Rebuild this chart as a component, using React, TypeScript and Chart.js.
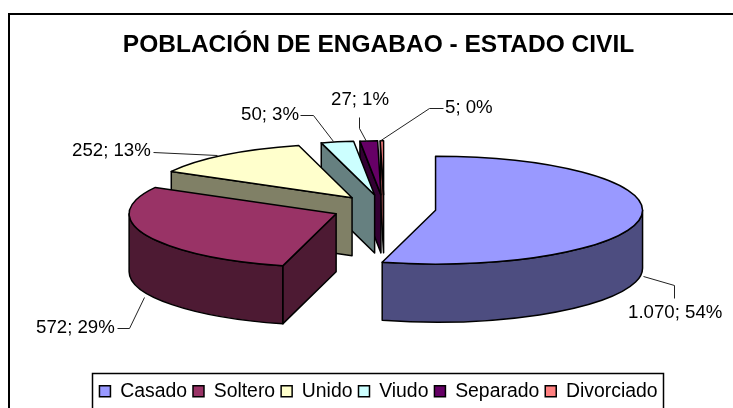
import React, { useEffect, useRef } from "react";
import { ArcElement, Chart, registerables } from "chart.js";

Chart.register(...registerables);

const TITLE = "POBLACIÓN DE ENGABAO - ESTADO CIVIL";
const categories = ["Casado", "Soltero", "Unido", "Viudo", "Separado", "Divorciado"];
const values = [1070, 572, 252, 50, 27, 5];
const topColors = ["#9999FF", "#993366", "#FFFFCC", "#CCFFFF", "#660066", "#FF8080"];
const wallColors = ["#4D4D80", "#4D1A33", "#808066", "#668080", "#330033", "#804040"];

const FONT = '"Liberation Sans", Arial, sans-serif';
const CENTER = { x: 384, y: 208.4 };
const RADIUS = 207;
const SQUASH = 54 / 207;
const DEPTH = 58;
const EXPLODE = 52;
const PAINT_ORDER = [5, 4, 3, 2, 1, 0];

// Where each data label sits (left edge, middle) and its leader line.
const labelLayout = [
  { x: 628, y: 313, line: [[643, 276], [674, 285], [674, 298]] },
  { x: 36, y: 328, line: [[144, 297], [129, 328], [117, 328]] },
  { x: 72, y: 151, line: [[153, 152], [217, 155]] },
  { x: 241, y: 115, line: [[300, 115], [313, 115], [333, 141]] },
  { x: 331, y: 100, line: [[359, 117], [359, 128], [366, 141]] },
  { x: 445, y: 108, line: [[443, 108], [429, 108], [379, 141]] },
];

const formatValue = (v: number) => String(v).replace(/\B(?=(\d{3})+$)/g, ".");

function sliceGeometry(arc: any) {
  const { startAngle: s, endAngle: e } = arc.getProps(["startAngle", "endAngle"], true);
  const mid = (s + e) / 2;
  return {
    s,
    e,
    cx: CENTER.x + Math.cos(mid) * EXPLODE,
    cy: CENTER.y + Math.sin(mid) * EXPLODE * SQUASH,
  };
}

const pie3d = {
  id: "pie3d",
  beforeDraw(chart: any) {
    const c = chart.ctx;
    c.save();
    c.fillStyle = "#fff";
    c.fillRect(0, 0, chart.width, chart.height);
    c.strokeStyle = "#000";
    c.lineWidth = 2;
    c.beginPath();
    c.moveTo(9, chart.height + 2);
    c.lineTo(9, 14);
    c.lineTo(chart.width + 2, 14);
    c.stroke();
    c.restore();
  },
  beforeDatasetsDraw(chart: any) {
    const c = chart.ctx;
    const arcs = chart.getDatasetMeta(0).data;
    // Each slice is pulled out of the pie along its own mid-angle.
    for (const arc of arcs) {
      arc.draw = function (ctx: any) {
        const { startAngle: s, endAngle: e } = this.getProps(["startAngle", "endAngle"], true);
        const mid = (s + e) / 2;
        ctx.save();
        ctx.translate(Math.cos(mid) * EXPLODE, Math.sin(mid) * EXPLODE);
        ArcElement.prototype.draw.call(this, ctx);
        ctx.restore();
      };
    }
    c.save();
    c.strokeStyle = "#000";
    c.lineWidth = 1.5;
    c.lineJoin = "round";
    const ry = RADIUS * SQUASH;
    const cutWall = (g: any, a: number) => {
      const px = g.cx + Math.cos(a) * RADIUS;
      const py = g.cy + Math.sin(a) * ry;
      c.beginPath();
      c.moveTo(g.cx, g.cy);
      c.lineTo(px, py);
      c.lineTo(px, py + DEPTH);
      c.lineTo(g.cx, g.cy + DEPTH);
      c.closePath();
      c.fill();
      c.stroke();
    };
    for (const i of PAINT_ORDER) {
      const g = sliceGeometry(arcs[i]);
      c.fillStyle = wallColors[i];
      if (Math.cos(g.s) < -1e-6) cutWall(g, g.s);
      if (Math.cos(g.e) > 1e-6) cutWall(g, g.e);
      const a0 = Math.max(g.s, 0);
      const a1 = Math.min(g.e, Math.PI);
      if (a1 > a0) {
        c.beginPath();
        c.ellipse(g.cx, g.cy, RADIUS, ry, 0, a0, a1);
        c.ellipse(g.cx, g.cy + DEPTH, RADIUS, ry, 0, a1, a0, true);
        c.closePath();
        c.fill();
        c.stroke();
      }
    }
    c.restore();
    const first = arcs[0];
    c.save();
    c.translate(CENTER.x, CENTER.y);
    c.scale(1, SQUASH);
    c.translate(-first.x, -first.y);
  },
  afterDatasetsDraw(chart: any) {
    const c = chart.ctx;
    c.restore();
    const arcs = chart.getDatasetMeta(0).data;
    c.save();
    c.strokeStyle = "#000";
    c.lineWidth = 1.5;
    c.lineJoin = "round";
    for (const arc of arcs) {
      const g = sliceGeometry(arc);
      c.beginPath();
      c.moveTo(g.cx, g.cy);
      c.ellipse(g.cx, g.cy, RADIUS, RADIUS * SQUASH, 0, g.s, g.e);
      c.closePath();
      c.stroke();
    }
    c.restore();
  },
  afterDraw(chart: any) {
    const c = chart.ctx;
    const total = values.reduce((a, b) => a + b, 0);
    c.save();
    c.strokeStyle = "#000";
    c.lineWidth = 1.5;
    c.strokeRect(92.5, 373.5, 571, 60);
    c.lineWidth = 1;
    c.strokeStyle = "#222";
    c.fillStyle = "#000";
    c.font = `18.67px ${FONT}`;
    c.textAlign = "left";
    c.textBaseline = "middle";
    values.forEach((v, i) => {
      const l = labelLayout[i];
      c.beginPath();
      l.line.forEach(([x, y], j) => (j ? c.lineTo(x + 0.5, y + 0.5) : c.moveTo(x + 0.5, y + 0.5)));
      c.stroke();
      c.fillText(`${formatValue(v)}; ${Math.round((v / total) * 100)}%`, l.x, l.y);
    });
    c.restore();
  },
};

export default function App() {
  const ref = useRef<HTMLCanvasElement | null>(null);
  useEffect(() => {
    const defaultLabels = (Chart as any).overrides.doughnut.plugins.legend.labels.generateLabels;
    const chart = new Chart(ref.current!, {
      type: "pie",
      data: {
        labels: categories,
        datasets: [
          {
            data: values,
            backgroundColor: topColors,
            borderWidth: 0,
            radius: RADIUS,
            clip: false,
          } as any,
        ],
      },
      options: {
        responsive: false,
        animation: false,
        events: [],
        layout: { padding: { left: 24, right: 0, top: 0, bottom: -3 } },
        plugins: {
          tooltip: { enabled: false },
          title: {
            display: true,
            text: TITLE,
            color: "#000",
            font: { family: FONT, size: 24.5, weight: "bold" },
            padding: { top: 31, bottom: 0 },
          },
          legend: {
            position: "bottom",
            labels: {
              color: "#000",
              font: { family: FONT, size: 19.4 },
              boxWidth: 11,
              boxHeight: 11,
              padding: 6,
              generateLabels: (ch: any) =>
                defaultLabels(ch).map((it: any) => ({ ...it, lineWidth: 1.5, strokeStyle: "#000" })),
            },
          },
        },
      } as any,
      plugins: [pie3d as any],
    });
    return () => chart.destroy();
  }, []);
  return (
    <canvas
      ref={ref}
      width={733}
      height={408}
      style={{ position: "fixed", left: 0, top: 0, width: 733, height: 408, display: "block" }}
    />
  );
}
